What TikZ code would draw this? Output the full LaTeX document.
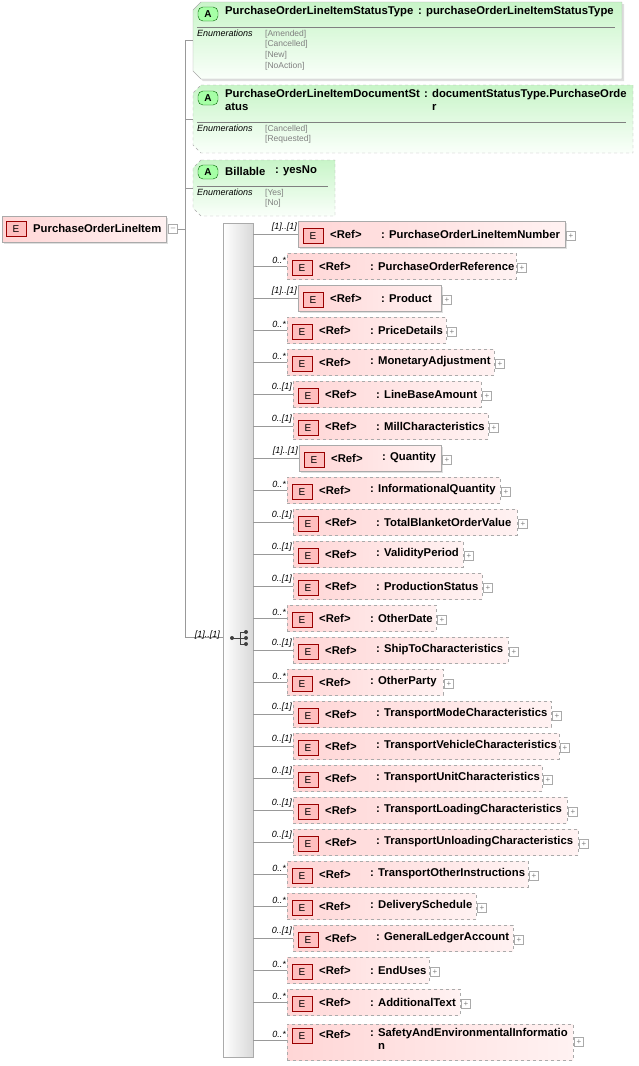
\documentclass[tikz,border=0pt]{standalone}
\usepackage{fontspec}
\setmainfont{Liberation Sans}
\usetikzlibrary{shadows}
\definecolor{pinkA}{RGB}{255,214,214}
\definecolor{pinkB}{RGB}{255,242,242}
\definecolor{greenA}{RGB}{200,245,200}
\definecolor{greenB}{RGB}{250,255,250}
\definecolor{edgeg}{RGB}{170,170,170}
\tikzset{
 rowbox/.style={draw=edgeg,left color=pinkA,right color=pinkB,minimum height=26pt,inner sep=0pt},
 solidrow/.style={rowbox,drop shadow={shadow xshift=2pt,shadow yshift=-2pt,fill=black!25}},
 dashrow/.style={rowbox,dashed},
 eicon/.style={draw=red!60!black,fill=red!25,minimum width=20pt,minimum height=15pt,inner sep=0pt,font=\fontsize{10}{10}\selectfont},
 plusbox/.style={draw=edgeg,fill=white,minimum size=9pt,inner sep=0pt,font=\fontsize{8}{8}\selectfont\color{gray}},
 txt/.style={inner sep=0pt,anchor=west,font=\fontsize{11.3}{13}\selectfont\bfseries},
 mult/.style={inner sep=0pt,anchor=south east,font=\fontsize{9}{10}\selectfont\itshape},
 enum/.style={inner sep=0pt,anchor=north west,align=left,font=\fontsize{8.5}{10.6}\selectfont\color{gray}},
 enuml/.style={inner sep=0pt,anchor=north west,font=\fontsize{9}{10}\selectfont\itshape},
 conn/.style={draw=gray!80,line width=0.6pt},
 aicon/.style={draw=green!40!black,fill=green!35,minimum width=20pt,minimum height=14pt,inner sep=0pt,rounded corners=5pt,font=\fontsize{10}{10}\selectfont\bfseries},
}
\begin{document}
\begin{tikzpicture}[x=1pt,y=-1pt]
\useasboundingbox (0,0) rectangle (638,1066);
% attribute boxes
\newcommand{\attrbox}[5]{%
 \draw[draw=edgeg,top color=greenA,bottom color=greenB,#5] (#1+8,#2) -- (#3,#2) -- (#3,#4) -- (#1+8,#4) -- (#1,#4-8) -- (#1,#2+8) -- cycle;}
\attrbox{193}{2}{622}{79}{drop shadow={shadow xshift=2pt,shadow yshift=-2pt,fill=black!25}}
\attrbox{193}{85}{633}{153}{dashed}
\attrbox{193}{160}{335}{216}{dashed}
\node[aicon] (a1i) at (208,14) {A};
\node[txt] (a1n) at (225,12) {PurchaseOrderLineItemStatusType};
\node[txt] (a1t) at (418,12) {: purchaseOrderLineItemStatusType};
\draw[gray] (197,27) -- (615,27);
\node[enuml] (a1e) at (197,30) {Enumerations};
\node[enum] (a1v) at (265,30) {{[Amended]}\\{}{[Cancelled]}\\{}{[New]}\\{}{[NoAction]}};
\node[aicon] (a2i) at (208,98) {A};
\node[txt,align=left,anchor=north west] (a2n) at (225,89) {PurchaseOrderLineItemDocumentSt\\atus};
\node[txt,align=left,anchor=north west] (a2t) at (424,89) {: documentStatusType.PurchaseOrde\\\phantom{: }r};
\draw[gray] (197,122) -- (626,122);
\node[enuml] (a2e) at (197,125) {Enumerations};
\node[enum] (a2v) at (265,125) {{[Cancelled]}\\{}{[Requested]}};
\node[aicon] (a3i) at (208,172) {A};
\node[txt] (a3n) at (225,171) {Billable};
\node[txt] (a3t) at (275,171) {: yesNo};
\draw[gray] (197,186) -- (328,186);
\node[enuml] (a3e) at (197,189) {Enumerations};
\node[enum] (a3v) at (265,189) {{[Yes]}\\{}{[No]}};
% main element
\node[solidrow,minimum width=164pt,minimum height=26pt] (main) at (84,229) {};
\node[eicon] (mi) at (16,229) {E};
\node[txt] (mn) at (33,228) {PurchaseOrderLineItem};
\node[plusbox] (mm) at (173,229) {--};
\coordinate (j) at (185,229);
\draw[conn] (mm.east) -- (j);
\draw[conn] (185,40) -- (185,637);
\draw[conn] (185,40) -- (193,40);
\draw[conn] (185,119) -- (193,119);
\draw[conn] (185,188) -- (193,188);
% sequence bar
\node[draw=edgeg,left color=white,right color=gray!30,minimum width=30pt,minimum height=834pt,inner sep=0pt] (bar) at (238,640) {};
\draw[conn] (185,637) -- (bar.west |- 0,637);
\node[mult] (bm) at (220,640) {[1]..[1]};
% sequence icon
\draw[black!75,line width=0.9pt] (232,638) -- (240,638) (240,632) -- (240,644) (240,632) -- (246,632) (240,638) -- (246,638) (240,644) -- (246,644);
\fill[black!75] (232,638) circle (2) (246,632) circle (2) (246,638) circle (2) (246,644) circle (2);
% rows
\foreach \i/\nm/\mu/\l/\r/\st in {
1/PurchaseOrderLineItemNumber/{[1]..[1]}/298/565/solidrow,
2/PurchaseOrderReference/{0..*}/287/516/dashrow,
3/Product/{[1]..[1]}/298/441/solidrow,
4/PriceDetails/{0..*}/287/446/dashrow,
5/MonetaryAdjustment/{0..*}/287/494/dashrow,
6/LineBaseAmount/{0..[1]}/293/481/dashrow,
7/MillCharacteristics/{0..[1]}/293/488/dashrow,
8/Quantity/{[1]..[1]}/299/441/solidrow,
9/InformationalQuantity/{0..*}/287/500/dashrow,
10/TotalBlanketOrderValue/{0..[1]}/293/517/dashrow,
11/ValidityPeriod/{0..[1]}/293/463/dashrow,
12/ProductionStatus/{0..[1]}/293/482/dashrow,
13/OtherDate/{0..*}/287/436/dashrow,
14/ShipToCharacteristics/{0..[1]}/293/508/dashrow,
15/OtherParty/{0..*}/287/443/dashrow,
16/TransportModeCharacteristics/{0..[1]}/293/551/dashrow,
17/TransportVehicleCharacteristics/{0..[1]}/293/559/dashrow,
18/TransportUnitCharacteristics/{0..[1]}/293/542/dashrow,
19/TransportLoadingCharacteristics/{0..[1]}/293/567/dashrow,
20/TransportUnloadingCharacteristics/{0..[1]}/293/578/dashrow,
21/TransportOtherInstructions/{0..*}/287/528/dashrow,
22/DeliverySchedule/{0..*}/287/476/dashrow,
23/GeneralLedgerAccount/{0..[1]}/293/513/dashrow,
24/EndUses/{0..*}/287/429/dashrow,
25/AdditionalText/{0..*}/287/460/dashrow}{
 \pgfmathsetmacro{\yy}{234+32*(\i-1)}
 \node[\st,minimum width={(\r-\l)*1pt}] (r\i) at ({(\l+\r)/2},\yy) {};
 \node[eicon] (e\i) at (\l+15,\yy+2) {E};
 \node[txt] (f\i) at (\l+32,\yy) {<Ref>};
 \node[txt] (n\i) at (\l+83,\yy) {: \nm};
 \node[plusbox] (p\i) at (\r+6,\yy+2) {+};
 \draw[conn] (bar.east |- r\i.west) -- (r\i.west);
 \node[mult] (m\i) at (\l-1,\yy-2) {\mu};
}
\node[dashrow,minimum width=286pt,minimum height=36pt] (r26) at (430,1042) {};
\node[eicon] (e26) at (302,1036) {E};
\node[txt] (f26) at (319,1034) {<Ref>};
\node[txt,align=left,anchor=north west] (n26) at (370,1028) {: SafetyAndEnvironmentalInformatio\\\phantom{: }n};
\node[plusbox] (p26) at (579,1042) {+};
\draw[conn] (bar.east |- 0,1040) -- (r26.west |- 0,1040);
\node[mult] (m26) at (286,1038) {0..*};
\end{tikzpicture}
\end{document}
